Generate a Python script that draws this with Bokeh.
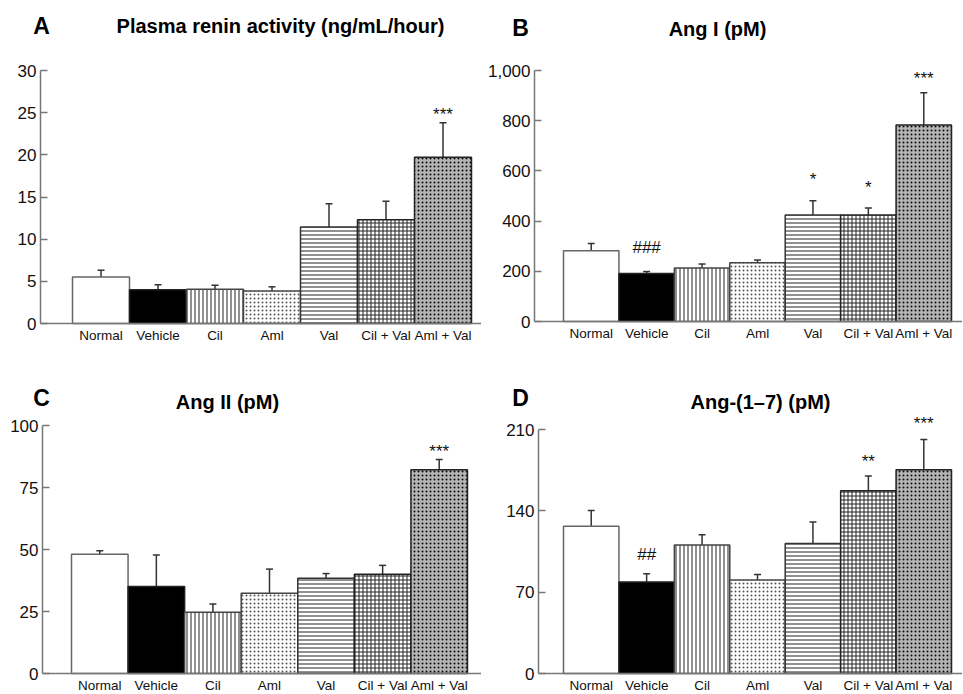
from bokeh.plotting import figure
from bokeh.layouts import column, row
from bokeh.models import (ColumnDataSource, Range1d, FixedTicker, NumeralTickFormatter,
                          Whisker, TeeHead)
from bokeh.core.properties import value
from bokeh.embed import file_html
from bokeh.resources import INLINE

# ---------------- data ----------------
categories = ["Normal", "Vehicle", "Cil", "Aml", "Val", "Cil + Val", "Aml + Val"]

renin_mean = [5.5, 4.0, 4.05, 3.85, 11.45, 12.3, 19.7]
renin_sem = [0.8, 0.6, 0.5, 0.5, 2.75, 2.2, 4.1]
renin_ticks = [0, 5, 10, 15, 20, 25, 30]
renin_marks = [(6, "***", 25.3)]

ang1_mean = [282, 191, 213, 234, 424, 424, 783]
ang1_sem = [29, 8, 16, 11, 57, 28, 128]
ang1_ticks = [0, 200, 400, 600, 800, 1000]
ang1_marks = [(1, "###", 295), (4, "*", 581), (5, "*", 550), (6, "***", 984)]

ang2_mean = [48.1, 35.1, 24.7, 32.4, 38.4, 40.0, 82.2]
ang2_sem = [1.4, 12.7, 3.3, 9.7, 1.9, 3.6, 4.1]
ang2_ticks = [0, 25, 50, 75, 100]
ang2_marks = [(6, "***", 91)]

ang17_mean = [126.7, 78.7, 110.6, 80.4, 111.8, 157.2, 175.3]
ang17_sem = [13.6, 7.1, 8.8, 4.8, 18.6, 12.7, 26.2]
ang17_ticks = [0, 70, 140, 210]
ang17_marks = [(1, "##", 102), (5, "**", 186), (6, "***", 219)]

FONT = "Liberation Sans"

# bar styles
styles = [
    dict(fill_color="white", line_color="#666666", hatch_pattern=None, hatch_color="black", hatch_scale=4, hatch_weight=1),
    dict(fill_color="black", line_color="#222222", hatch_pattern=None, hatch_color="black", hatch_scale=4, hatch_weight=1),
    dict(fill_color="white", line_color="#444444", hatch_pattern="vertical_line", hatch_color="#222222", hatch_scale=4, hatch_weight=1),
    dict(fill_color="white", line_color="#444444", hatch_pattern="dot", hatch_color="#555555", hatch_scale=4, hatch_weight=1),
    dict(fill_color="white", line_color="#333333", hatch_pattern="horizontal_line", hatch_color="#222222", hatch_scale=4, hatch_weight=1),
    dict(fill_color="white", line_color="#222222", hatch_pattern="cross", hatch_color="#222222", hatch_scale=4, hatch_weight=1),
    dict(fill_color="#b4b4b4", line_color="#222222", hatch_pattern="dot", hatch_color="#0a0a0a", hatch_scale=4, hatch_weight=3),
]


def make_panel(mean, sem, ticks, marks, letter, title, fmt, geo):
    # geo: pixel geometry of the panel (in page pixels)
    fx, fy, W, H = geo["fig"]
    bl, bw = geo["bar_left"], geo["bar_w"]
    zp, tp = geo["zero_py"], geo["top_py"]
    top = max(ticks)
    sc = (zp - tp) / top
    x0 = -0.5 - (bl - fx) / bw
    x1 = x0 + W / bw
    y1 = (zp - fy) / sc
    y0 = -(fy + H - zp) / sc

    def dx(px):
        return -0.5 + (px - bl) / bw

    def dy(py):
        return (zp - py) / sc

    p = figure(width=W, height=H, output_backend="svg", toolbar_location=None,
               x_range=Range1d(x0, x1), y_range=Range1d(y0, y1),
               min_border=0, min_border_left=0, min_border_right=0,
               min_border_top=0, min_border_bottom=0, outline_line_color=None)
    p.grid.visible = False

    for i, st in enumerate(styles):
        kw = dict(st)
        if kw["hatch_pattern"] is None:
            kw.pop("hatch_pattern")
        src = ColumnDataSource(dict(x=[i], top=[mean[i]]))
        p.vbar(x="x", top="top", bottom=0, width=1.0, source=src, line_width=1.5, **kw)

    upper = [m + s for m, s in zip(mean, sem)]
    esrc = ColumnDataSource(dict(x=list(range(len(mean))), lower=mean, upper=upper))
    p.add_layout(Whisker(base="x", lower="lower", upper="upper", source=esrc,
                         line_color="#333333", line_width=1.5,
                         upper_head=TeeHead(size=7, line_color="#333333", line_width=1.5),
                         lower_head=None))

    msrc = ColumnDataSource(dict(x=[m[0] for m in marks], y=[m[2] for m in marks],
                                 t=[m[1] for m in marks],
                                 off=[4 if m[1].startswith("*") else 0 for m in marks]))
    p.text(x="x", y="y", text="t", source=msrc, text_align="center", y_offset="off",
           text_baseline="middle", text_font=value(FONT), text_font_size="17px",
           text_color="#111111")

    tsrc = ColumnDataSource(dict(x=[dx(geo["letter"][0]), dx(geo["title"][0])],
                                 y=[dy(geo["letter"][1]), dy(geo["title"][1])],
                                 t=[letter, title], s=["23px", "20px"]))
    p.text(x="x", y="y", text="t", source=tsrc, text_align="center",
           text_baseline="middle", text_font=value(FONT), text_font_style="bold",
           text_font_size="s", text_color="black")

    xa = p.xaxis[0]
    xa.fixed_location = 0
    xa.bounds = (dx(geo["axis_px"]), x1)
    xa.ticker = FixedTicker(ticks=list(range(len(categories))))
    xa.major_label_overrides = {i: c for i, c in enumerate(categories)}
    xa.major_tick_line_color = None
    xa.major_tick_out = 0
    xa.major_tick_in = 0
    xa.minor_tick_line_color = None
    xa.axis_line_color = "#777777"
    xa.axis_line_width = 1.5
    xa.major_label_text_font = FONT
    xa.major_label_text_font_size = "13.5px"
    xa.major_label_text_color = "#111111"
    xa.major_label_standoff = 4

    ya = p.yaxis[0]
    ya.fixed_location = dx(geo["axis_px"])
    ya.ticker = FixedTicker(ticks=ticks)
    ya.bounds = (0, top)
    ya.minor_tick_line_color = None
    ya.major_tick_in = 7
    ya.major_tick_out = 0
    ya.major_tick_line_color = "#777777"
    ya.major_tick_line_width = 1.5
    ya.axis_line_color = "#777777"
    ya.axis_line_width = 1.5
    ya.major_label_text_font = FONT
    ya.major_label_text_font_size = "17px"
    ya.major_label_text_color = "#111111"
    ya.major_label_standoff = 4
    if fmt:
        ya.formatter = NumeralTickFormatter(format=fmt)
    return p


geoA = dict(fig=(0, 0, 481, 349), bar_left=72, bar_w=57.0, zero_py=323, top_py=70,
            axis_px=40, letter=(41, 25), title=(280, 25))
geoB = dict(fig=(481, 0, 481, 349), bar_left=563, bar_w=55.43, zero_py=321, top_py=70,
            axis_px=534, letter=(520, 27), title=(717, 28))
geoC = dict(fig=(0, 349, 481, 344), bar_left=71, bar_w=56.57, zero_py=673, top_py=425,
            axis_px=42, letter=(41, 397), title=(227, 401))
geoD = dict(fig=(481, 349, 481, 344), bar_left=563, bar_w=55.43, zero_py=673, top_py=429,
            axis_px=538, letter=(520, 397), title=(760, 401))

pA = make_panel(renin_mean, renin_sem, renin_ticks, renin_marks, "A",
                "Plasma renin activity (ng/mL/hour)", None, geoA)
pB = make_panel(ang1_mean, ang1_sem, ang1_ticks, ang1_marks, "B", "Ang I (pM)", "0,0", geoB)
pC = make_panel(ang2_mean, ang2_sem, ang2_ticks, ang2_marks, "C", "Ang II (pM)", None, geoC)
pD = make_panel(ang17_mean, ang17_sem, ang17_ticks, ang17_marks, "D", "Ang-(1–7) (pM)", None, geoD)

layout = column(row(pA, pB), row(pC, pD))
open("out.html", "w").write(file_html(layout, INLINE))
